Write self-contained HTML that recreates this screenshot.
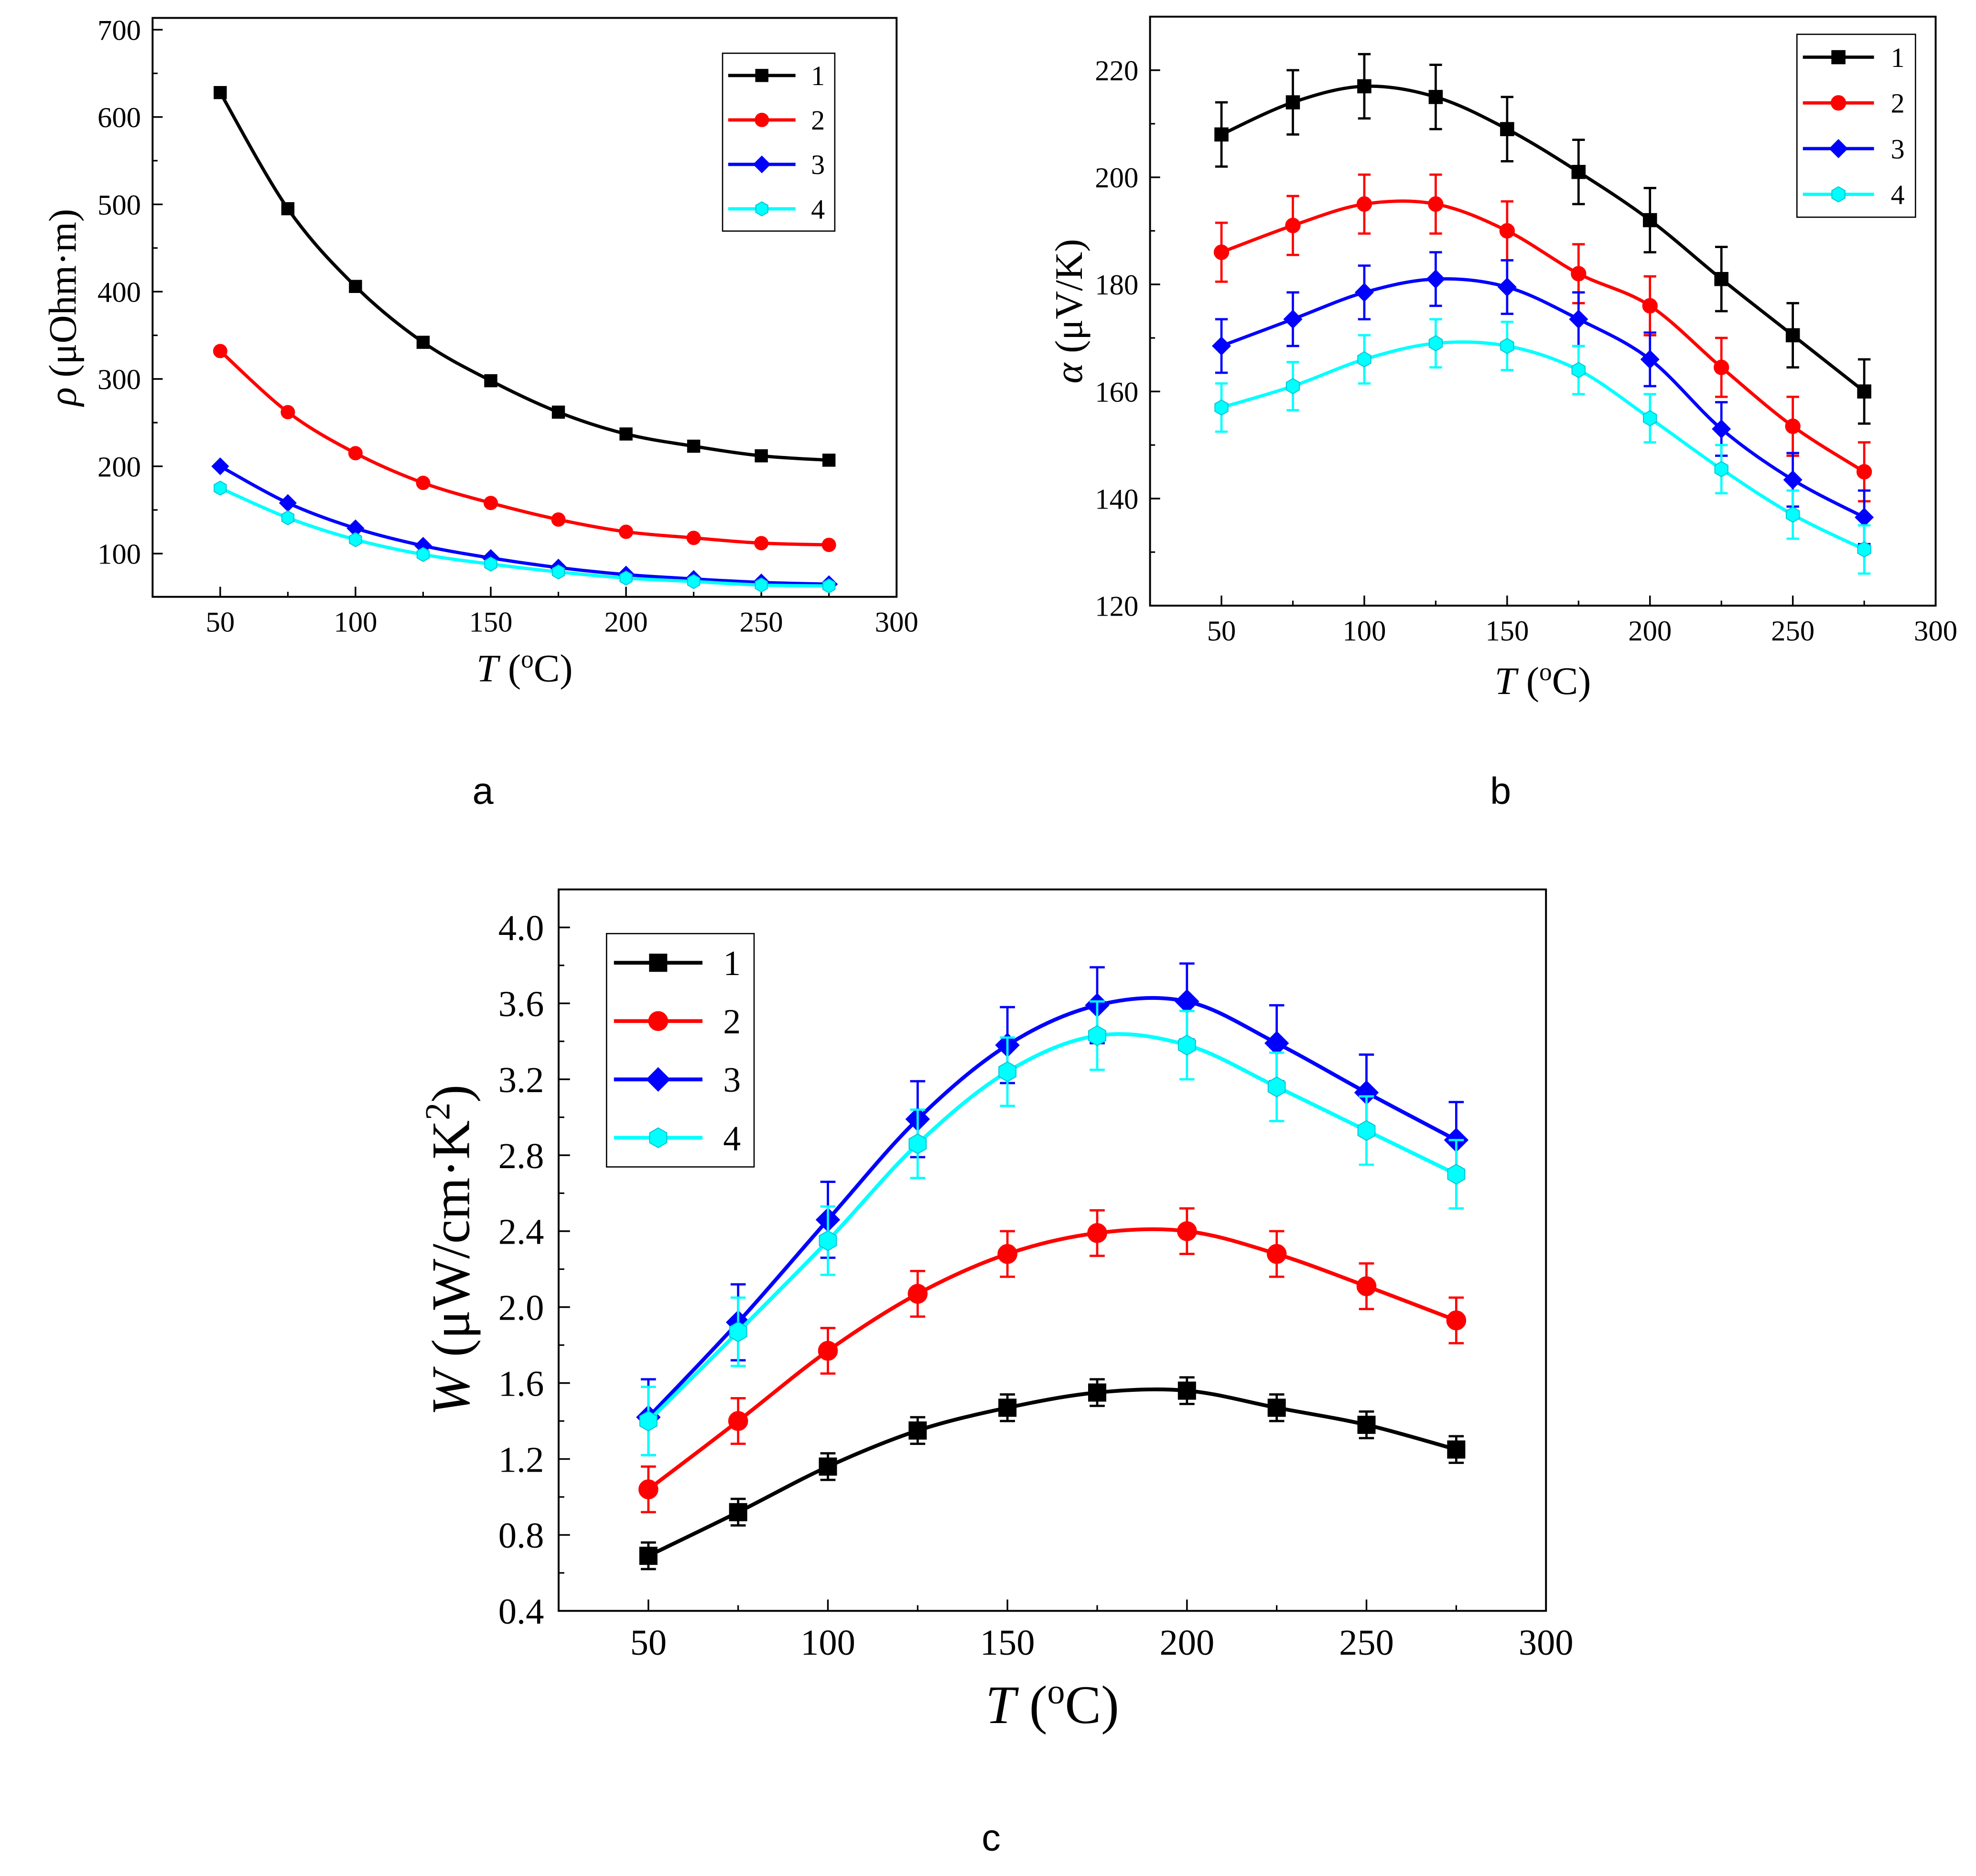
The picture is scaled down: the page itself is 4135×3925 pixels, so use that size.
<!DOCTYPE html>
<html><head><meta charset="utf-8"><style>
html,body{margin:0;padding:0;background:#fff;}
svg{display:block}
text{font-family:"Liberation Serif",serif;fill:#000}
.sans{font-family:"Liberation Sans",sans-serif}
</style></head><body>
<svg id="fig" xmlns="http://www.w3.org/2000/svg" width="4135" height="3925" viewBox="0 0 1567 1487"></svg>
<script>
const T = [50,75,100,125,150,175,200,225,250,275];
const seriesNames = ['1','2','3','4'];
const colors = ['#000000','#ff0000','#0000ff','#00ffff'];
const edgeColors = ['#000000','#ff0000','#0000ff','#00c8d8'];
const markers = ['square','circle','diamond','hexagon'];
// panel a: resistivity
const rho1 = [628,495,406,342,298,262,237,223,212,207];
const rho2 = [332,262,215,181,158,139,125,118,112,110];
const rho3 = [200,158,129,109,95,84,76,71,67,65];
const rho4 = [175,141,116,99,88,79,72,68,64,63];
// panel b: Seebeck
const alpha1 = [208,214,217,215,209,201,192,181,170.5,160];
const alpha2 = [186,191,195,195,190,182,176,164.5,153.5,145];
const alpha3 = [168.5,173.5,178.5,181,179.5,173.5,166,153,143.5,136.5];
const alpha4 = [157,161,166,169,168.5,164,155,145.5,137,130.5];
const alphaErr = [6,5.5,5,4.5];
// panel c: power factor
const w1 = [0.69,0.92,1.16,1.35,1.47,1.55,1.56,1.47,1.38,1.25];
const w2 = [1.04,1.40,1.77,2.07,2.28,2.39,2.40,2.28,2.11,1.93];
const w3 = [1.42,1.92,2.46,2.99,3.38,3.59,3.61,3.39,3.13,2.88];
const w4 = [1.40,1.87,2.35,2.86,3.24,3.43,3.38,3.16,2.93,2.70];
const wErr = [0.07,0.12,0.2,0.18];
const xTicks = [50,100,150,200,250,300];
const rhoTicks = [100,200,300,400,500,600,700];
const alphaTicks = [120,140,160,180,200,220];
const wTicks = [0.4,0.8,1.2,1.6,2.0,2.4,2.8,3.2,3.6,4.0];

const NS='http://www.w3.org/2000/svg';
const svg=document.getElementById('fig');
function el(tag,attrs,parent,txt){const e=document.createElementNS(NS,tag);for(const k in attrs)e.setAttribute(k,attrs[k]);if(txt!==undefined)e.textContent=txt;(parent||svg).appendChild(e);return e;}

function smoothPath(pts){
  let d='M'+pts[0][0]+','+pts[0][1];
  for(let i=0;i<pts.length-1;i++){
    const p0=pts[Math.max(0,i-1)],p1=pts[i],p2=pts[i+1],p3=pts[Math.min(pts.length-1,i+2)];
    const c1=[p1[0]+(p2[0]-p0[0])/6,p1[1]+(p2[1]-p0[1])/6];
    const c2=[p2[0]-(p3[0]-p1[0])/6,p2[1]-(p3[1]-p1[1])/6];
    d+=' C'+c1+' '+c2+' '+p2;
  }
  return d;
}
function marker(g,type,x,y,s,fill,stroke){
  let m;
  if(type==='square') m=el('rect',{x:x-s,y:y-s,width:2*s,height:2*s},g);
  else if(type==='circle') m=el('circle',{cx:x,cy:y,r:s*1.1},g);
  else if(type==='diamond') m=el('polygon',{points:[x,y-s*1.35,x+s*1.35,y,x,y+s*1.35,x-s*1.35,y].join(',')},g);
  else {let p=[];for(let k=0;k<6;k++){const a=Math.PI/6+k*Math.PI/3;p.push(x+s*1.15*Math.cos(a),y+s*1.15*Math.sin(a));}m=el('polygon',{points:p.join(',')},g);}
  m.setAttribute('fill',fill);m.setAttribute('stroke',stroke);m.setAttribute('stroke-width',0.8);
  
  
  return m;
}

function panel(cfg){
  const g=el('g',{},svg);
  
  
  const {L,R,Tp,B,xmin,xmax,ymin,ymax,fs}=cfg;
  const sx=v=>L+(v-xmin)/(xmax-xmin)*(R-L);
  const sy=v=>B-(v-ymin)/(ymax-ymin)*(B-Tp);
  const tl=cfg.tick;
  xTicks.forEach((v,i)=>{
    const x=sx(v);
    el('line',{x1:x,y1:B,x2:x,y2:B-tl,stroke:'#000','stroke-width':1.3},g);
    if(i<xTicks.length-1){const xm=sx(v+25);el('line',{x1:xm,y1:B,x2:xm,y2:B-tl/2,stroke:'#000','stroke-width':1.2},g);}
    const t=el('text',{x:x,y:B+fs*1.2,'font-size':fs,'text-anchor':'middle'},g,String(v));
    
  });
  const xm0=sx(25);el('line',{x1:xm0,y1:B,x2:xm0,y2:B-tl/2,stroke:'#000','stroke-width':1.2},g);
  cfg.yTicks.forEach((v,i)=>{
    const y=sy(v);
    el('line',{x1:L,y1:y,x2:L+tl,y2:y,stroke:'#000','stroke-width':1.3},g);
    const step=cfg.yTicks[1]-cfg.yTicks[0];
    const ym=v+step/2; if(ym<ymax){el('line',{x1:L,y1:sy(ym),x2:L+tl/2,y2:sy(ym),stroke:'#000','stroke-width':1.2},g);}
    const t=el('text',{x:L-fs*0.4,y:y+fs*0.35,'font-size':fs,'text-anchor':'end'},g,cfg.fmt(v));
    
  });
  cfg.series.forEach((s,si)=>{
    const sg=el('g',{},g);
    
    
    const pts=T.map((t,i)=>[sx(t),sy(s[i])]);
    if(cfg.err){
      const e=cfg.err[si];
      T.forEach((t,i)=>{
        const x=sx(t),y1=sy(s[i]+e),y2=sy(s[i]-e);
        el('line',{x1:x,y1:y1,x2:x,y2:y2,stroke:colors[si],'stroke-width':1.8},sg);
        el('line',{x1:x-cfg.cap,y1:y1,x2:x+cfg.cap,y2:y1,stroke:colors[si],'stroke-width':1.8},sg);
        el('line',{x1:x-cfg.cap,y1:y2,x2:x+cfg.cap,y2:y2,stroke:colors[si],'stroke-width':1.8},sg);
      });
    }
    const p=el('path',{d:smoothPath(pts),fill:'none',stroke:colors[si],'stroke-width':cfg.lw},sg);
    
    pts.forEach(q=>marker(sg,markers[si],q[0],q[1],cfg.ms,colors[si],edgeColors[si]));
  });
  el('rect',{x:L,y:Tp,width:R-L,height:B-Tp,fill:'none',stroke:'#000','stroke-width':1.5},g);
  const lg=cfg.legend;
  const lgG=el('g',{},g);
  
  el('rect',{x:lg.x,y:lg.y,width:lg.w,height:lg.h,fill:'#fff',stroke:'#000','stroke-width':1},lgG);
  seriesNames.forEach((n,i)=>{
    const y=lg.y+lg.h/8*(2*i+1);
    const eg=el('g',{},lgG);
    
    el('line',{x1:lg.x+lg.w*0.05,y1:y,x2:lg.x+lg.w*0.65,y2:y,stroke:colors[i],'stroke-width':cfg.lw},eg);
    marker(eg,markers[i],lg.x+lg.w*0.35,y,cfg.ms*lg.ms,colors[i],edgeColors[i]);
    el('text',{x:lg.x+lg.w*0.85,y:y+lg.fs*0.35,'font-size':lg.fs,'text-anchor':'middle'},eg,n);
  });
  const xt=el('text',{x:(L+R)/2,y:cfg.xtY,'font-size':cfg.tfs,'text-anchor':'middle'},g);
  
  xt.innerHTML='<tspan font-style="italic">T</tspan> (<tspan baseline-shift="super" font-size="'+(cfg.tfs*0.65)+'">o</tspan>C)';
  const yt=el('text',{x:0,y:0,'font-size':cfg.tfs,'text-anchor':'middle',transform:'translate('+cfg.ytX+','+(Tp+B)/2+') rotate(-90)'},g);
  
  yt.innerHTML=cfg.ytitle;
  const pl=el('text',{x:cfg.lab[0],y:cfg.lab[1],'font-size':30,'text-anchor':'middle',class:'sans'},svg,cfg.labText);
  
}

panel({name:'panel-a-resistivity',L:121,R:711,Tp:14,B:473,xmin:25,xmax:300,ymin:50.5,ymax:713.5,fs:23,tfs:31,tick:8,lw:2.6,ms:4.8,cap:4,
  yTicks:rhoTicks,fmt:v=>String(v),series:[rho1,rho2,rho3,rho4],err:null,
  legend:{x:573,y:42,w:89,h:141,fs:22,ms:1},xtY:540,ytX:60,
  ytitle:'<tspan font-style="italic">ρ</tspan> (μOhm·m)',lab:[383,637],labText:'a'});
panel({name:'panel-b-seebeck',L:912,R:1535,Tp:13,B:480,xmin:25,xmax:300,ymin:120,ymax:230,fs:23,tfs:31,tick:8,lw:2.6,ms:5.2,cap:5,
  yTicks:alphaTicks,fmt:v=>String(v),series:[alpha1,alpha2,alpha3,alpha4],err:alphaErr,
  legend:{x:1425,y:27,w:94,h:145,fs:22,ms:1},xtY:550,ytX:858,
  ytitle:'<tspan font-style="italic">α</tspan> (μV/K)',lab:[1190,637],labText:'b'});
panel({name:'panel-c-power-factor',L:443,R:1226,Tp:705,B:1277,xmin:25,xmax:300,ymin:0.4,ymax:4.2,fs:29,tfs:43,tick:9,lw:3,ms:6.8,cap:6,
  yTicks:wTicks,fmt:v=>v.toFixed(1),series:[w1,w2,w3,w4],err:wErr,
  legend:{x:481,y:740,w:117,h:185,fs:28,ms:1},xtY:1366,ytX:372,
  ytitle:'<tspan font-style="italic">W</tspan> (μW/cm·K<tspan baseline-shift="super" font-size="28">2</tspan>)',lab:[786,1467],labText:'c'});
</script>
</body></html>
